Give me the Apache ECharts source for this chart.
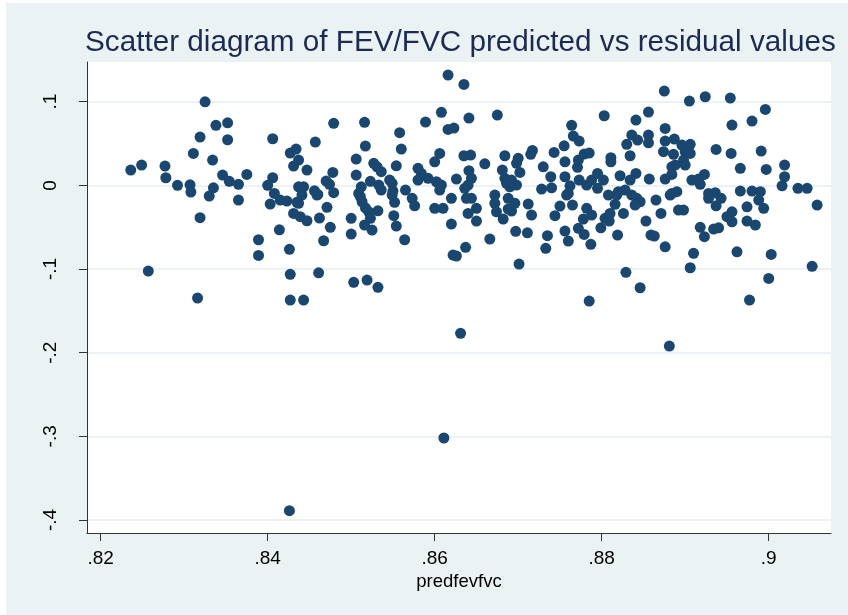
<!DOCTYPE html>
<html>
<head>
<meta charset="utf-8">
<script src="https://cdn.jsdelivr.net/npm/echarts@6/dist/echarts.min.js"></script>
<style>html,body{margin:0;padding:0;background:#fff;}#c{width:848px;height:615px;}</style>
</head>
<body>
<div id="c"></div>
<script>
// Predicted FEV/FVC (x) and residual (y) values
const predicted = [
.8236,.8249,.8277,.8278,.8292,.8307,.8308,.8325,.8338,.8352,.8319,.8352,.8406,.8311,.8334,.8335,.8330,.8346,.8354,.8365,
.8375,.8365,.8400,.8406,.8408,.8427,.8434,.8431,.8415,.8423,.8435,.8437,.8403,.8319,.8431,.8414,.8389,.8389,.8426,.8257,
.8427,.8316,.8427,.8443,.8426,
.8616,.8635,.8479,.8516,.8457,.8558,.8589,.8608,.8641,.8616,.8623,.8517,.8560,.8506,.8527,.8531,.8536,.8554,.8437,.8447,
.8478,.8470,.8474,.8479,.8443,.8441,.8456,.8460,.8506,.8523,.8512,.8509,.8511,.8533,.8536,.8546,.8549,.8550,.8565,.8573,
.8580,.8584,.8580,.8592,.8600,.8606,.8602,.8608,.8606,.8626,.8635,.8643,.8641,.8660,.8644,.8640,.8636,.8620,.8638,.8644,
.8459,.8437,.8439,.8447,.8471,.8462,.8475,.8467,.8500,.8500,.8513,.8517,.8521,.8532,.8523,.8516,.8525,.8549,.8552,.8551,
.8554,.8564,.8576,.8600,.8610,.8620,.8650,.8640,.8650,.8666,.8637,.8622,.8626,.8461,.8503,.8519,.8532,.8631,.8611,
.8875,.8675,.8803,.8841,.8856,.8764,.8766,.8773,.8755,.8743,.8717,.8715,.8684,.8700,.8698,.8681,.8702,.8684,.8692,.8686,
.8698,.8690,.8730,.8739,.8728,.8740,.8756,.8756,.8762,.8760,.8772,.8771,.8773,.8779,.8785,.8782,.8788,.8795,.8802,.8795,
.8811,.8811,.8822,.8834,.8830,.8836,.8843,.8856,.8856,.8841,.8834,.8857,.8876,.8876,.8887,.8874,.8886,.8884,.8884,.8876,
.8808,.8820,.8828,.8836,.8672,.8688,.8865,.8884,.8890,.8672,.8696,.8674,.8688,.8682,.8692,.8712,.8716,.8697,.8711,.8735,
.8733,.8750,.8744,.8758,.8765,.8756,.8760,.8772,.8779,.8782,.8778,.8788,.8787,.8799,.8804,.8810,.8809,.8816,.8818,.8826,
.8819,.8842,.8846,.8840,.8853,.8859,.8863,.8871,.8876,.8882,.8892,.8701,.8829,.8846,.8785,.8881,
.8905,.8924,.8954,.8996,.8980,.8956,.8896,.8906,.8900,.8906,.8898,.8900,.8888,.8937,.8955,.8991,.8966,.8997,.9019,.9019,
.9016,.9035,.9046,.8908,.8916,.8923,.8918,.8928,.8936,.8943,.8966,.8980,.8990,.8988,.8928,.8937,.8898,.8994,.8974,.8956,
.8950,.8956,.8974,.8984,.9058,.8918,.8923,.8934,.8940,.8910,.8962,.9003,.8906,.9052,.9000,.8977
];
const residual = [
.0183,.0243,.0231,.0091,0,.0007,-.0080,.0999,.0717,.0748,.0577,.0545,.0557,.0382,.0302,-.0029,-.0128,.0123,.0048,.0012,
.0131,-.0176,0,.0091,-.0096,.0386,.0434,.0231,-.0176,-.0188,-.0203,-.0017,-.0224,-.0387,-.0335,-.0531,-.0650,-.0837,-.0765,-.1024,
-.1064,-.1347,-.1371,-.1371,-.3889,
.1318,.1207,.0741,.0753,.0518,.0629,.0757,.0873,.0804,.0669,.0685,.0470,.0434,.0314,.0263,.0222,.0163,.0234,.0302,.0183,
.0155,.0051,.0012,-.0088,-.0017,-.0116,-.0065,-.0108,.0123,.0048,-.0017,-.0096,-.0136,.0004,-.0056,.0063,.0024,-.0068,-.0056,-.0155,
.0203,.0143,.0063,.0084,.0282,.0382,.0043,.0004,-.0056,.0075,.0354,.0362,.0175,.0258,.0084,.0004,-.0036,-.0155,-.0155,-.0155,
-.0116,-.0215,-.0375,-.0423,-.0263,-.0391,-.0502,-.0662,-.0394,-.0582,-.0196,-.0268,-.0316,-.0304,-.0394,-.0474,-.0534,-.0116,-.0203,-.0363,
-.0486,-.0650,-.0244,-.0275,-.0275,-.0463,-.0275,-.0335,-.0427,-.0642,-.0741,-.0833,-.0845,-.1045,-.1159,-.1132,-.1219,-.1769,-.3020,
.1127,.0840,.0832,.0780,.0876,.0717,.0589,.0529,.0473,.0394,.0418,.0371,.0354,.0323,.0263,.0183,.0155,.0084,.0063,.0024,
.0004,-.0017,.0222,.0103,-.0044,-.0029,.0282,.0103,-.0005,-.0096,.0302,.0215,.0063,.0374,.0386,.0004,.0063,.0143,.0063,-.0036,
.0330,.0282,.0115,.0354,.0490,.0601,.0541,.0601,.0509,.0143,.0063,.0075,.0681,.0529,.0553,.0402,.0371,.0222,.0131,.0075,
-.0116,-.0076,-.0056,-.0116,-.0116,-.0155,-.0176,-.0096,-.0076,-.0215,-.0215,-.0316,-.0283,-.0403,-.0307,-.0224,-.0355,-.0550,-.0567,-.0602,
-.0753,-.0247,-.0363,-.0116,-.0235,-.0546,-.0666,-.0514,-.0586,-.0275,-.0403,-.0355,-.0705,-.0507,-.0394,-.0335,-.0427,-.0227,-.0116,-.0335,
-.0594,-.0155,-.0196,-.0235,-.0427,-.0594,-.0606,-.0335,-.0734,-.0116,-.0295,-.0941,-.1040,-.1224,-.1383,-.1921,
.1008,.1059,.1043,.0908,.0769,.0721,.0482,.0490,.0402,.0382,.0302,.0243,.0243,.0430,.0382,.0410,.0203,.0191,.0243,.0103,
-.0005,-.0036,-.0036,.0063,.0075,.0131,.0012,-.0096,-.0088,-.0155,-.0068,-.0068,-.0076,-.0176,-.0155,-.0244,-.0295,-.0275,-.0256,-.0316,
-.0375,-.0435,-.0427,-.0474,-.0235,-.0502,-.0614,-.0522,-.0507,-.0813,-.0794,-.0825,-.0985,-.0968,-.1112,-.1371
];
const xTicks = [0.82, 0.84, 0.86, 0.88, 0.90];
const yTicks = [-0.4, -0.3, -0.2, -0.1, 0, 0.1];
const titleText = 'Scatter diagram of FEV/FVC predicted vs residual values';
const xName = 'predfevfvc';

function fmt(v) {
  if (Math.abs(v) < 1e-9) return '0';
  const s = String(parseFloat(Math.abs(v).toFixed(2))).replace(/^0/, '');
  return (v < 0 ? '-' : '') + s;
}

const pts = predicted.map((x, i) => [x, residual[i]]);
const chart = echarts.init(document.getElementById('c'), null, {renderer: 'canvas'});
const FONT = '"Liberation Sans", Arial, Helvetica, sans-serif';
chart.setOption({
  animation: false,
  backgroundColor: '#ffffff',
  graphic: [{
    type: 'rect', z: -10, silent: true,
    shape: {x: 6, y: 3, width: 842, height: 612},
    style: {fill: '#EAF2F3'}
  }],
  title: {
    text: titleText,
    left: 85, top: 27, padding: 0,
    textStyle: {fontFamily: FONT, fontSize: 29.7, fontWeight: 'normal', color: '#1C2B52', lineHeight: 32}
  },
  grid: {
    left: 87, top: 62, width: 744, height: 471,
    show: true, backgroundColor: '#ffffff', borderWidth: 0
  },
  xAxis: {
    type: 'value',
    min: 0.81836, max: 0.90746,
    name: xName, nameLocation: 'middle', nameGap: 37,
    nameTextStyle: {fontFamily: FONT, fontSize: 18.5, color: '#000'},
    axisLine: {show: true, onZero: false, lineStyle: {color: '#333', width: 1}},
    axisTick: {show: true, inside: false, length: 8, customValues: xTicks, lineStyle: {color: '#333'}},
    axisLabel: {customValues: xTicks, formatter: fmt, margin: 16, fontFamily: FONT, fontSize: 19, color: '#000', showMinLabel: true, showMaxLabel: true},
    splitLine: {show: false}
  },
  yAxis: {
    type: 'value',
    min: -0.41554, max: 0.14745,
    axisLine: {show: true, onZero: false, lineStyle: {color: '#333', width: 1}},
    axisTick: {show: true, inside: false, length: 8, customValues: yTicks, lineStyle: {color: '#333'}},
    axisLabel: {customValues: yTicks, formatter: fmt, rotate: 90, margin: 27, fontFamily: FONT, fontSize: 19, color: '#000', showMinLabel: true, showMaxLabel: true},
    splitLine: {show: true, lineStyle: {color: '#E6EEF0', width: 1.5}}
  },
  series: [{
    type: 'scatter',
    data: pts,
    symbol: 'circle',
    symbolSize: 11,
    itemStyle: {color: '#1A476F', opacity: 1},
    z: 3
  }]
});
</script>
</body>
</html>
